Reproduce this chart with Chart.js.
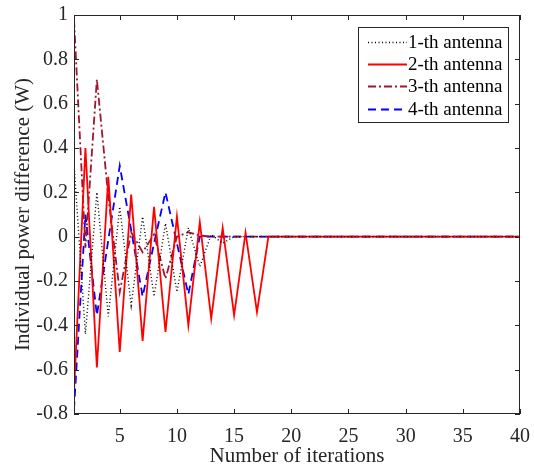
<!DOCTYPE html>
<html>
<head>
<meta charset="utf-8">
<script src="https://cdn.jsdelivr.net/npm/chart.js@4/dist/chart.umd.min.js"></script>
<style>
  html, body { margin: 0; padding: 0; background: #fff; }
</style>
</head>
<body>
<canvas id="powerChart" width="534" height="466"></canvas>
<script>
/* ================= DATA ================= */
const iterations = [1, 2, 3, 4, 5, 6, 7, 8, 9, 10, 11, 12, 13, 14, 15, 16, 17, 18, 19, 20,
  21, 22, 23, 24, 25, 26, 27, 28, 29, 30, 31, 32, 33, 34, 35, 36, 37, 38, 39, 40];
const xTicks = [5, 10, 15, 20, 25, 30, 35, 40];
const yTicks = [-0.8, -0.6, -0.4, -0.2, 0, 0.2, 0.4, 0.6, 0.8, 1];

const antenna1 = [0.33, -0.44, 0.2, -0.36, 0.135, -0.31, 0.09, -0.27, 0.06, -0.25,
  0.04, -0.135, 0.01, -0.03, 0, 0, 0, 0, 0, 0,
  0, 0, 0, 0, 0, 0, 0, 0, 0, 0, 0, 0, 0, 0, 0, 0, 0, 0, 0, 0];
const antenna2 = [-0.7, 0.4, -0.59, 0.27, -0.52, 0.19, -0.47, 0.135, -0.43, 0.09,
  -0.4, 0.065, -0.37, 0.04, -0.355, 0.018, -0.34, 0, 0, 0,
  0, 0, 0, 0, 0, 0, 0, 0, 0, 0, 0, 0, 0, 0, 0, 0, 0, 0, 0, 0];
const antenna3 = [0.98, -0.05, 0.71, 0.18, -0.25, 0.02, -0.07, 0.01, -0.19, 0.0,
  0.02, 0.005, 0, 0, 0, 0, 0, 0, 0, 0,
  0, 0, 0, 0, 0, 0, 0, 0, 0, 0, 0, 0, 0, 0, 0, 0, 0, 0, 0, 0];
const antenna4 = [-0.78, 0.1, -0.355, -0.015, 0.32, 0.03, -0.27, -0.03, 0.2, -0.03,
  -0.26, 0, 0, 0, 0, 0, 0, 0, 0, 0,
  0, 0, 0, 0, 0, 0, 0, 0, 0, 0, 0, 0, 0, 0, 0, 0, 0, 0, 0, 0];

const seriesLabels = ["1-th antenna", "2-th antenna", "3-th antenna", "4-th antenna"];

/* ================= STYLE ================= */
const axisColor = "#262626";
const serif = "'Liberation Serif', 'Times New Roman', serif";

function toPoints(values) {
  return iterations.map((it, i) => ({ x: it, y: values[i] }));
}

// box round the plot with inward ticks, like matlab
const matlabFrame = {
  id: "matlabFrame",
  afterDatasetsDraw(chart) {
    const { ctx, chartArea: a, scales: { x, y } } = chart;
    const len = 5;
    ctx.save();
    ctx.strokeStyle = axisColor;
    ctx.lineWidth = 1;
    ctx.beginPath();
    xTicks.forEach(v => {
      const px = Math.round(x.getPixelForValue(v)) + 0.5;
      ctx.moveTo(px, a.bottom); ctx.lineTo(px, a.bottom - len);
      ctx.moveTo(px, a.top); ctx.lineTo(px, a.top + len);
    });
    yTicks.forEach(v => {
      const py = Math.round(y.getPixelForValue(v)) + 0.5;
      ctx.moveTo(a.left, py); ctx.lineTo(a.left + len, py);
      ctx.moveTo(a.right, py); ctx.lineTo(a.right - len, py);
    });
    ctx.stroke();
    ctx.strokeRect(Math.round(a.left) + 0.5, Math.round(a.top) + 0.5,
      Math.round(a.right - a.left) - 1, Math.round(a.bottom - a.top) - 1);
    ctx.restore();
  }
};

// legend box inside the plot, top right
const boxLegend = {
  id: "boxLegend",
  afterDraw(chart) {
    const { ctx, chartArea: a } = chart;
    const w = 150, h = 95, rowH = 22.4;
    const bx = a.right - 12 - w, by = a.top + 12;
    ctx.save();
    ctx.fillStyle = "#fff";
    ctx.fillRect(bx, by, w, h);
    ctx.strokeStyle = axisColor;
    ctx.lineWidth = 1;
    ctx.strokeRect(bx + 0.5, by + 0.5, w, h);
    ctx.font = "19px " + serif;
    ctx.textBaseline = "middle";
    chart.data.datasets.forEach((ds, i) => {
      const cy = Math.round(by + 14.5 + i * rowH) + 0.5;
      ctx.beginPath();
      ctx.strokeStyle = ds.borderColor;
      ctx.lineWidth = ds.borderWidth;
      ctx.setLineDash(ds.borderDash || []);
      ctx.moveTo(bx + 10, cy);
      ctx.lineTo(bx + 49, cy);
      ctx.stroke();
      ctx.setLineDash([]);
      ctx.fillStyle = "#000";
      ctx.fillText(ds.label, bx + 50, cy + 1);
    });
    ctx.restore();
  }
};

/* ================= CHART ================= */
new Chart(document.getElementById("powerChart"), {
  type: "line",
  data: {
    datasets: [{
      label: seriesLabels[0],
      data: toPoints(antenna1),
      borderColor: "#000000",
      borderWidth: 1.4,
      borderDash: [1, 2.5]
    }, {
      label: seriesLabels[1],
      data: toPoints(antenna2),
      borderColor: "#ff0000",
      borderWidth: 1.8
    }, {
      label: seriesLabels[2],
      data: toPoints(antenna3),
      borderColor: "#a2142f",
      borderWidth: 1.8,
      borderDash: [8, 3, 2, 3]
    }, {
      label: seriesLabels[3],
      data: toPoints(antenna4),
      borderColor: "#0000ff",
      borderWidth: 1.8,
      borderDash: [8, 5]
    }]
  },
  options: {
    responsive: false,
    animation: false,
    devicePixelRatio: 1,
    layout: { padding: { top: 15, right: 14, left: 0, bottom: 0 } },
    elements: { point: { radius: 0 }, line: { tension: 0 } },
    plugins: {
      legend: { display: false },
      tooltip: { enabled: false }
    },
    scales: {
      x: {
        type: "linear",
        min: 1,
        max: 40,
        afterBuildTicks: s => { s.ticks = xTicks.map(v => ({ value: v })); },
        afterFit: s => { s.height = 52; s.paddingRight = 0; s.paddingLeft = 0; },
        grid: { display: false, drawTicks: false },
        border: { display: false },
        ticks: { color: axisColor, padding: 11, maxRotation: 0, font: { family: serif, size: 20 } },
        title: {
          display: true,
          text: "Number of iterations",
          color: axisColor,
          padding: { top: 0, bottom: -3 },
          font: { family: serif, size: 21 }
        }
      },
      y: {
        min: -0.8,
        max: 1,
        afterBuildTicks: s => { s.ticks = yTicks.map(v => ({ value: v })); },
        afterFit: s => { s.width = 74; s.paddingTop = 0; s.paddingBottom = 0; },
        grid: { display: false, drawTicks: false },
        border: { display: false },
        ticks: {
          color: axisColor,
          padding: 6,
          font: { family: serif, size: 20 },
          callback: v => String(Math.round(v * 10) / 10)
        },
        title: {
          display: true,
          text: "Individual power difference (W)",
          color: axisColor,
          padding: { top: 11, bottom: 0 },
          font: { family: serif, size: 21 }
        }
      }
    }
  },
  plugins: [matlabFrame, boxLegend]
});
</script>
</body>
</html>
